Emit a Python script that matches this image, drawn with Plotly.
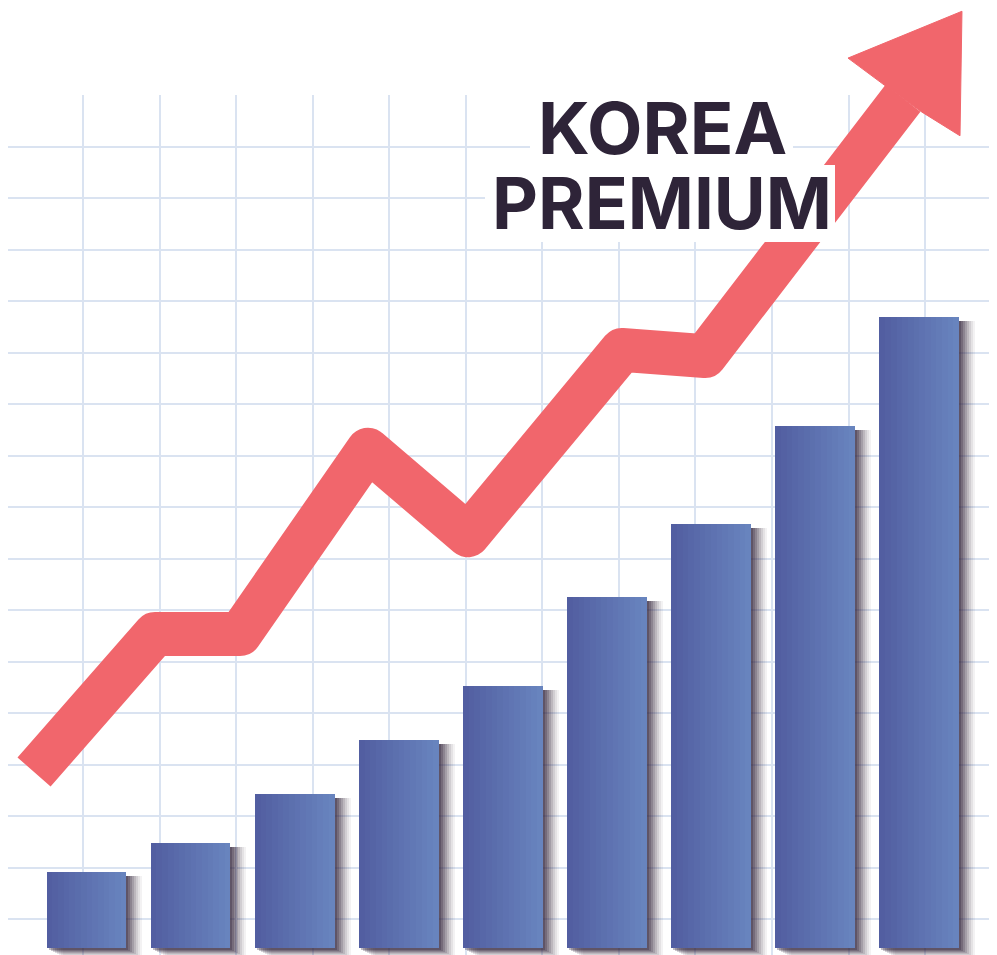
import plotly.graph_objects as go

# ---- data ----
bar_index = [0, 1, 2, 3, 4, 5, 6, 7, 8]
bar_values = [1.48, 2.04, 2.99, 4.04, 5.09, 6.82, 8.24, 10.14, 12.26]

trend_x = [-0.504, 0.658, 1.475, 2.704, 3.665, 5.144, 5.941, 7.843]
trend_y = [3.42, 6.10, 6.10, 9.68, 8.02, 11.62, 11.50, 16.51]

head_x = [7.661, 7.315, 8.410, 8.391, 8.026]
head_y = [16.77, 17.29, 18.20, 15.78, 16.24]

title_lines = ["KOREA", "PREMIUM"]

# ---- geometry / style ----
OFF = 8                      # page body margin
W, H = 997 - OFF, 955 - OFF
PX_X = 1 / 104.1             # index units per pixel
PX_Y = 1 / 51.47             # value units per pixel
BAR_W = 0.765
ARROW = "#F1666C"
TEXT = "#2E2438"
GRID = "#DAE3F1"


def px(xr):
    return (xr - OFF) / W


def py(yr):
    return 1 - (yr - OFF) / H


fig = go.Figure()

# dummy trace so the grid subplot is drawn
fig.add_trace(go.Scatter(x=[500], y=[500], mode="markers", marker=dict(opacity=0),
                         xaxis="x", yaxis="y", hoverinfo="skip", showlegend=False))

# soft shadow layers (behind bars)
shadow = [(16, 9, 0.06), (14, 8, 0.08), (12, 7, 0.10), (10, 6, 0.13),
          (8, 5, 0.16), (6, 4, 0.20), (4, 3, 0.25), (2, 2, 0.30)]
for dx, db, a in shadow:
    fig.add_trace(go.Bar(
        x=bar_index, y=[v + db * PX_Y - 4 * PX_Y for v in bar_values],
        base=[-db * PX_Y] * len(bar_values),
        width=BAR_W, offset=-BAR_W / 2 + dx * PX_X,
        marker=dict(color=f"rgba(46,32,56,{a})", line=dict(width=0)),
        xaxis="x2", yaxis="y2", hoverinfo="skip", showlegend=False))

# gradient bars made of vertical stripes
N = 14
c0 = (0x52, 0x5E, 0xA1)
c1 = (0x68, 0x84, 0xBE)
for k in range(N):
    t = k / (N - 1)
    col = tuple(round(c0[i] + (c1[i] - c0[i]) * t) for i in range(3))
    sw = BAR_W / N
    w = sw * 1.25 if k < N - 1 else sw
    fig.add_trace(go.Bar(
        x=bar_index, y=bar_values,
        width=w, offset=-BAR_W / 2 + k * sw,
        marker=dict(color="rgb(%d,%d,%d)" % col, line=dict(width=0)),
        xaxis="x2", yaxis="y2", hoverinfo="skip", showlegend=False))

# trend arrow shaft
fig.add_trace(go.Scatter(
    x=trend_x, y=trend_y, mode="lines",
    line=dict(color=ARROW, width=44),
    xaxis="x2", yaxis="y2", hoverinfo="skip", showlegend=False))
# arrow head
fig.add_trace(go.Scatter(
    x=head_x + [head_x[0]], y=head_y + [head_y[0]], mode="lines",
    fill="toself", fillcolor=ARROW, line=dict(color=ARROW, width=1),
    xaxis="x2", yaxis="y2", hoverinfo="skip", showlegend=False))

# white boxes behind the title
fig.add_shape(type="rect", xref="paper", yref="paper", layer="above",
              x0=px(530), x1=px(793), y0=py(166), y1=py(86),
              fillcolor="white", line=dict(width=0))
fig.add_shape(type="rect", xref="paper", yref="paper", layer="above",
              x0=px(485), x1=px(835), y0=py(242), y1=py(165),
              fillcolor="white", line=dict(width=0))

# title text
fig.add_annotation(text=title_lines[0], xref="paper", yref="paper",
                   x=px(662), y=py(127), xanchor="center", yanchor="middle",
                   showarrow=False,
                   font=dict(family="Inter", size=72, color=TEXT, weight=700))
fig.add_annotation(text=title_lines[1], xref="paper", yref="paper",
                   x=px(661.5), y=py(202.5), xanchor="center", yanchor="middle",
                   showarrow=False,
                   font=dict(family="Inter", size=71, color=TEXT, weight=700))

axis_off = dict(showticklabels=False, ticks="", zeroline=False, showline=False)
fig.update_layout(
    width=W, height=H, margin=dict(l=0, r=0, t=0, b=0),
    paper_bgcolor="white", plot_bgcolor="rgba(0,0,0,0)",
    barmode="overlay", bargap=0,
    xaxis=dict(domain=[0, 1], range=[OFF, 997], tick0=83, dtick=76.55,
               showgrid=True, gridcolor=GRID, gridwidth=2, fixedrange=True, **axis_off),
    yaxis=dict(domain=[0, py(95)], range=[955, 95], tick0=147, dtick=51.47,
               showgrid=True, gridcolor=GRID, gridwidth=2, fixedrange=True, **axis_off),
    xaxis2=dict(domain=[0, 1], range=[(OFF - 86.5) * PX_X, (997 - 86.5) * PX_X], anchor="y2",
                showgrid=False, fixedrange=True, **axis_off),
    yaxis2=dict(domain=[0, 1], range=[(948 - 955) * PX_Y, (948 - OFF) * PX_Y], anchor="x2",
                showgrid=False, fixedrange=True, **axis_off),
)

fig.write_html(
    "out.html",
    post_script="document.querySelectorAll('path.js-line').forEach(function(p){p.style.strokeLinejoin='round';});",
)
